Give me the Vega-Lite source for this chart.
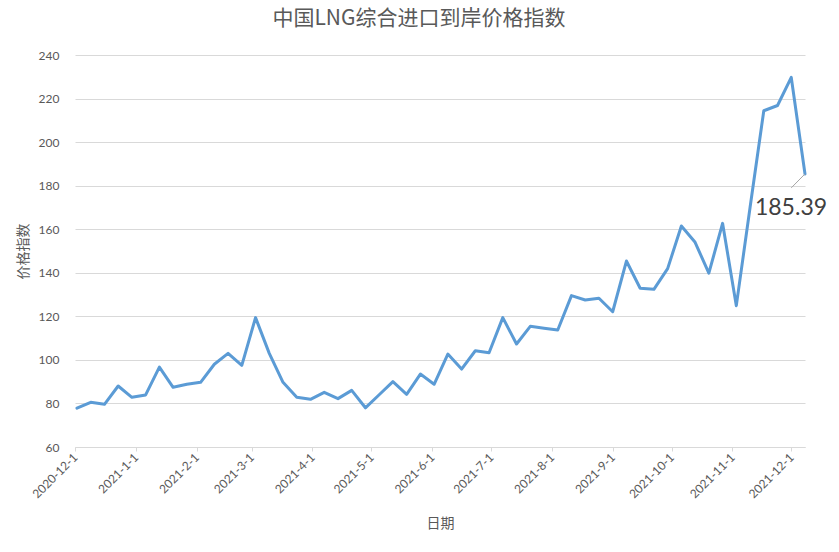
{
  "$schema": "https://vega.github.io/schema/vega-lite/v6.json",
  "width": 730,
  "height": 392,
  "autosize": {"type": "none"},
  "padding": {"left": 75, "top": 55, "right": 34, "bottom": 105},
  "background": "white",
  "title": {
    "text": "中国LNG综合进口到岸价格指数",
    "font": "Noto Sans CJK SC",
    "fontSize": 21,
    "fontWeight": "normal",
    "color": "#595959",
    "anchor": "middle",
    "dx": -21,
    "offset": 20
  },
  "config": {
    "view": {"stroke": null},
    "axis": {
      "labelFont": "Lato",
      "labelFontSize": 12,
      "labelColor": "#595959",
      "titleFont": "Noto Sans CJK SC",
      "titleFontSize": 14,
      "titleFontWeight": "normal",
      "titleColor": "#595959",
      "gridColor": "#d9d9d9",
      "domainColor": "#d9d9d9",
      "tickColor": "#d9d9d9"
    }
  },
  "datasets": {
    "index": [
      {"date": "2020-12-02", "value": 77.8},
      {"date": "2020-12-09", "value": 80.5},
      {"date": "2020-12-16", "value": 79.6},
      {"date": "2020-12-23", "value": 88.0},
      {"date": "2020-12-30", "value": 82.8},
      {"date": "2021-01-06", "value": 83.9},
      {"date": "2021-01-13", "value": 96.7},
      {"date": "2021-01-20", "value": 87.4},
      {"date": "2021-01-27", "value": 88.8},
      {"date": "2021-02-03", "value": 89.7},
      {"date": "2021-02-10", "value": 98.0},
      {"date": "2021-02-17", "value": 103.0},
      {"date": "2021-02-24", "value": 97.5},
      {"date": "2021-03-03", "value": 119.4},
      {"date": "2021-03-10", "value": 103.0},
      {"date": "2021-03-17", "value": 89.7},
      {"date": "2021-03-24", "value": 82.8},
      {"date": "2021-03-31", "value": 81.9},
      {"date": "2021-04-07", "value": 85.1},
      {"date": "2021-04-14", "value": 82.2},
      {"date": "2021-04-21", "value": 86.0},
      {"date": "2021-04-28", "value": 78.0},
      {"date": "2021-05-05", "value": 84.0},
      {"date": "2021-05-12", "value": 90.0},
      {"date": "2021-05-19", "value": 84.2},
      {"date": "2021-05-26", "value": 93.5},
      {"date": "2021-06-02", "value": 88.8},
      {"date": "2021-06-09", "value": 102.7},
      {"date": "2021-06-16", "value": 95.8},
      {"date": "2021-06-23", "value": 104.2},
      {"date": "2021-06-30", "value": 103.3},
      {"date": "2021-07-07", "value": 119.4},
      {"date": "2021-07-14", "value": 107.3},
      {"date": "2021-07-21", "value": 115.4},
      {"date": "2021-07-28", "value": 114.5},
      {"date": "2021-08-04", "value": 113.7},
      {"date": "2021-08-11", "value": 129.5},
      {"date": "2021-08-18", "value": 127.5},
      {"date": "2021-08-25", "value": 128.3},
      {"date": "2021-09-01", "value": 122.1},
      {"date": "2021-09-08", "value": 145.4},
      {"date": "2021-09-15", "value": 132.9},
      {"date": "2021-09-22", "value": 132.4},
      {"date": "2021-09-29", "value": 141.9},
      {"date": "2021-10-06", "value": 161.5},
      {"date": "2021-10-13", "value": 154.0},
      {"date": "2021-10-20", "value": 139.8},
      {"date": "2021-10-27", "value": 162.7},
      {"date": "2021-11-03", "value": 124.9},
      {"date": "2021-11-10", "value": 170.0},
      {"date": "2021-11-17", "value": 214.4},
      {"date": "2021-11-24", "value": 216.8},
      {"date": "2021-12-01", "value": 229.7},
      {"date": "2021-12-08", "value": 185.39}
    ],
    "label": [
      {"date": "2021-12-08", "value": 185.39, "date2": "2021-12-01", "value2": 179.0, "text": "185.39"}
    ]
  },
  "layer": [
    {
      "data": {"name": "index"},
      "mark": {"type": "line", "color": "#5B9BD5", "strokeWidth": 3, "strokeJoin": "round", "strokeCap": "round"},
      "encoding": {
        "x": {
          "field": "date",
          "type": "temporal",
          "scale": {
            "type": "utc",
            "domain": [
              {"year": 2020, "month": 12, "date": 1, "utc": true},
              {"year": 2021, "month": 12, "date": 8, "utc": true}
            ]
          },
          "axis": {
            "title": "日期",
            "grid": false,
            "format": "%Y-%-m-%-d",
            "values": [
              {"year": 2020, "month": 12, "date": 1, "utc": true},
              {"year": 2021, "month": 1, "date": 1, "utc": true},
              {"year": 2021, "month": 2, "date": 1, "utc": true},
              {"year": 2021, "month": 3, "date": 1, "utc": true},
              {"year": 2021, "month": 4, "date": 1, "utc": true},
              {"year": 2021, "month": 5, "date": 1, "utc": true},
              {"year": 2021, "month": 6, "date": 1, "utc": true},
              {"year": 2021, "month": 7, "date": 1, "utc": true},
              {"year": 2021, "month": 8, "date": 1, "utc": true},
              {"year": 2021, "month": 9, "date": 1, "utc": true},
              {"year": 2021, "month": 10, "date": 1, "utc": true},
              {"year": 2021, "month": 11, "date": 1, "utc": true},
              {"year": 2021, "month": 12, "date": 1, "utc": true}
            ],
            "labelAngle": -45,
            "labelAlign": "right",
            "labelBaseline": "middle",
            "labelPadding": 4,
            "tickSize": 4,
            "labelOverlap": false,
            "titleY": 76,
            "titleBaseline": "middle"
          }
        },
        "y": {
          "field": "value",
          "type": "quantitative",
          "scale": {"domain": [60, 240], "nice": false, "zero": false},
          "axis": {
            "title": "价格指数",
            "values": [60, 80, 100, 120, 140, 160, 180, 200, 220, 240],
            "domain": false,
            "ticks": false,
            "labelPadding": 16,
            "titlePadding": 8
          }
        }
      }
    },
    {
      "data": {"name": "label"},
      "mark": {"type": "rule", "color": "#a6a6a6", "strokeWidth": 1},
      "encoding": {
        "x": {"field": "date", "type": "temporal"},
        "y": {"field": "value", "type": "quantitative"},
        "x2": {"field": "date2"},
        "y2": {"field": "value2"}
      }
    },
    {
      "data": {"name": "label"},
      "mark": {"type": "text", "font": "Lato", "fontSize": 23, "color": "#404040", "align": "center", "baseline": "middle", "dx": -14, "dy": 34},
      "encoding": {
        "x": {"field": "date", "type": "temporal"},
        "y": {"field": "value", "type": "quantitative"},
        "text": {"field": "text"}
      }
    }
  ]
}
